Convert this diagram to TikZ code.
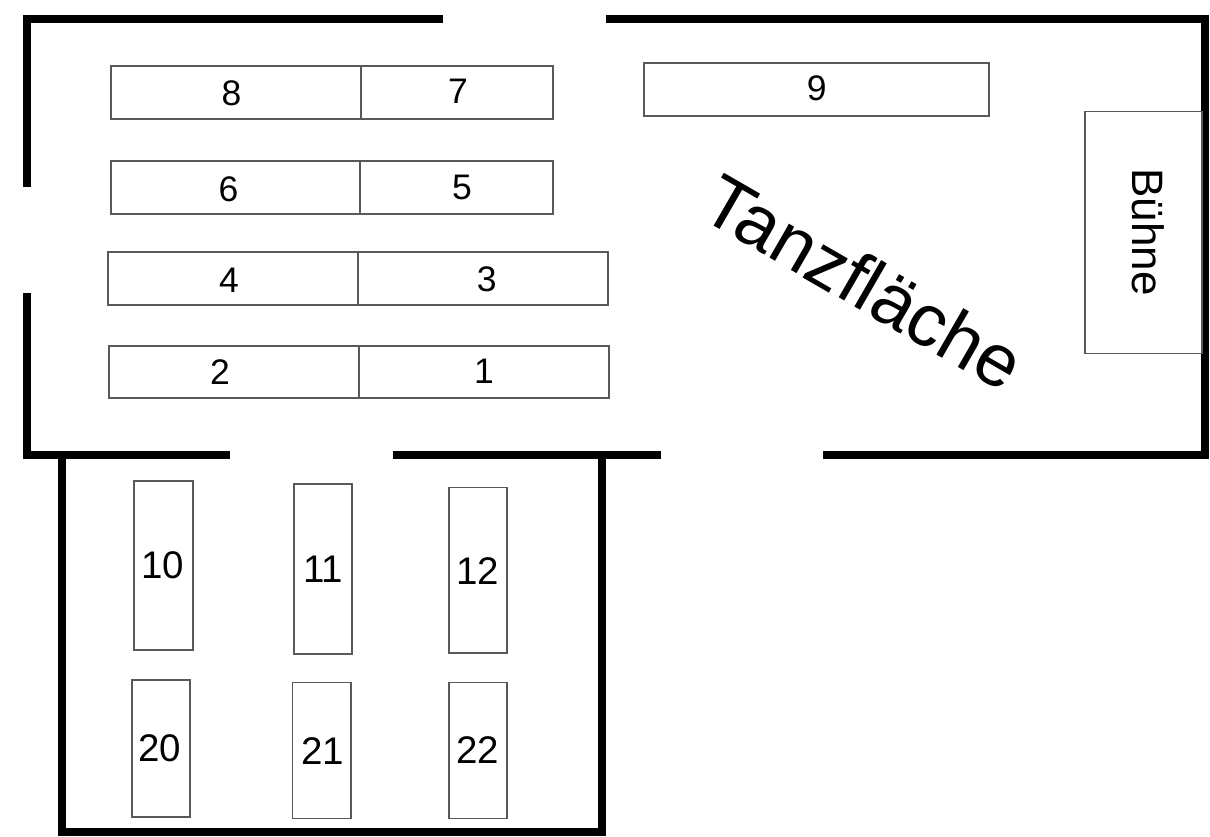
\documentclass[tikz,border=0pt]{standalone}
\usepackage{fontspec}
\setmainfont{Liberation Sans}
\begin{document}
\begin{tikzpicture}[x=1pt,y=-1pt,
  wall/.style={line width=8pt,black,line join=miter,line cap=butt},
  tbl/.style={line width=1.1pt,draw=black!65},
  lbl/.style={inner sep=0pt,font=\fontsize{35.5}{42}\selectfont},
  lblb/.style={inner sep=0pt,font=\fontsize{38.5}{44}\selectfont}]
\useasboundingbox (0,0) rectangle (1210,837);
\fill[white] (0,0) rectangle (1210,837);
% walls
\draw[wall] (443,19.5) -- (27,19.5) -- (27,187.5);
\draw[wall] (606,19.5) -- (1205,19.5) -- (1205,455) -- (823,455);
\draw[wall] (27,293) -- (27,455) -- (230,455);
\draw[wall] (393,455) -- (661,455);
\draw[wall] (62,455) -- (62,832) -- (602,832) -- (602,455);
% upper tables
\draw[tbl] (111,66) rectangle (553,119) (361,66) -- (361,119);
\draw[tbl] (111,161) rectangle (553,214) (360,161) -- (360,214);
\draw[tbl] (108,252) rectangle (608,305) (358,252) -- (358,305);
\draw[tbl] (109,346) rectangle (609,398) (359,346) -- (359,398);
\draw[tbl] (644,63) rectangle (989,116);
\draw[tbl] (1085,111.5) rectangle (1202,353.5);
% lower tables
\draw[tbl] (134,481) rectangle (193,650);
\draw[tbl] (294,484) rectangle (352,654);
\draw[tbl] (449,487.5) rectangle (507,653);
\draw[tbl] (132,680) rectangle (190,817);
\draw[tbl] (292.5,682.5) rectangle (351,818.5);
\draw[tbl] (449,682.5) rectangle (507,818.5);
% labels
\node[lbl] (t8) at (231.5,93) {8};
\node[lbl] (t7) at (458,91.7) {7};
\node[lbl] (t6) at (228.5,189) {6};
\node[lbl] (t5) at (462,187) {5};
\node[lbl] (t4) at (229,280.5) {4};
\node[lbl] (t3) at (486.7,279) {3};
\node[lbl] (t2) at (220,372) {2};
\node[lbl] (t1) at (484,371) {1};
\node[lbl] (t9) at (816.7,88.3) {9};
\node[lblb] (t10) at (162.5,565.5) {10};
\node[lblb] (t11) at (323,569) {11};
\node[lblb] (t12) at (477.5,571) {12};
\node[lblb] (t20) at (160,748) {20};
\node[lblb] (t21) at (322.5,751) {21};
\node[lblb] (t22) at (477.7,750.5) {22};
\node[inner sep=0pt,rotate=-90,font=\fontsize{44}{50}\selectfont] (buehne) at (1148.5,232) {Bühne};
\node[inner sep=0pt,rotate=-30,font=\fontsize{74}{84}\selectfont] (tanz) at (864,282) {Tanzfläche};
\end{tikzpicture}
\end{document}
